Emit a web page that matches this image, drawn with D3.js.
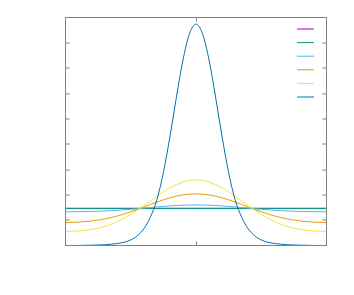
<!DOCTYPE html>
<html>
<head>
<meta charset="utf-8">
<script src="https://cdn.jsdelivr.net/npm/d3@7"></script>
<style>
  html, body { margin: 0; padding: 0; background: #fff; }
  svg { display: block; }
</style>
</head>
<body>
<div id="main"></div>
<script>
// sample positions across the plot
let xs = [-20,-19,-18,-17,-16,-15,-14,-13,-12,-11,-10,-9,-8,-7,-6,-5,-4,-3,-2,-1,0,
          1,2,3,4,5,6,7,8,9,10,11,12,13,14,15,16,17,18,19,20];

let purpleValues = [1.47,1.47,1.47,1.47,1.47,1.47,1.47,1.47,1.47,1.47,1.47,1.47,1.47,1.47,1.47,1.47,1.47,1.47,1.47,1.47,1.47,
                    1.47,1.47,1.47,1.47,1.47,1.47,1.47,1.47,1.47,1.47,1.47,1.47,1.47,1.47,1.47,1.47,1.47,1.47,1.47,1.47];

let greenValues = [1.455,1.455,1.455,1.455,1.455,1.455,1.455,1.455,1.455,1.455,1.455,1.455,1.455,1.455,1.455,1.455,1.455,1.455,1.455,1.455,1.455,
                   1.455,1.455,1.455,1.455,1.455,1.455,1.455,1.455,1.455,1.455,1.455,1.455,1.455,1.455,1.455,1.455,1.455,1.455,1.455,1.455];

let lightBlueValues = [1.330,1.331,1.334,1.338,1.344,1.352,1.362,1.375,1.390,1.409,1.429,1.451,1.474,1.497,1.520,1.542,1.562,1.578,1.590,1.597,1.600,
                       1.597,1.590,1.578,1.562,1.542,1.520,1.497,1.474,1.451,1.429,1.409,1.390,1.375,1.362,1.352,1.344,1.338,1.334,1.331,1.330];

let orangeValues = [0.910,0.913,0.924,0.942,0.968,1.003,1.049,1.104,1.170,1.247,1.331,1.423,1.520,1.618,1.713,1.803,1.882,1.948,1.998,2.029,2.040,
                    2.029,1.998,1.948,1.882,1.803,1.713,1.618,1.520,1.423,1.331,1.247,1.170,1.104,1.049,1.003,0.968,0.942,0.924,0.913,0.910];

let yellowValues = [0.560,0.563,0.577,0.599,0.633,0.682,0.749,0.836,0.944,1.075,1.225,1.393,1.572,1.758,1.943,2.118,2.275,2.407,2.507,2.569,2.590,
                    2.569,2.507,2.407,2.275,2.118,1.943,1.758,1.572,1.393,1.225,1.075,0.944,0.836,0.749,0.682,0.633,0.599,0.577,0.563,0.560];

let blueValues = [0,0,0,0.01,0.01,0.02,0.03,0.05,0.08,0.13,0.22,0.38,0.66,1.12,1.80,2.88,4.29,5.86,7.32,8.36,8.74,
                  8.36,7.32,5.86,4.29,2.88,1.80,1.12,0.66,0.38,0.22,0.13,0.08,0.05,0.03,0.02,0.01,0.01,0,0,0];

let seriesColors = ['#9400d3', '#009e73', '#56b4e9', '#e69f00', '#f0e442', '#0072b2'];

let yTicks = [0, 1, 2, 3, 4, 5, 6, 7, 8, 9];
let xTicks = [0];

class CurvesPlot {
  constructor(config) {
    this.config = config;
    this.svg = null;
    this.xScale = null;
    this.yScale = null;
    this.series = [purpleValues, greenValues, lightBlueValues, orangeValues, yellowValues, blueValues];
    this.createSvg();
  }

  createSvg() {
    this.svg = d3.select(this.config.div)
      .append('svg')
      .attr('width', this.config.width)
      .attr('height', this.config.height);

    this.svg.append('rect')
      .attr('width', this.config.width)
      .attr('height', this.config.height)
      .attr('fill', '#fff');
  }

  createScales() {
    this.xScale = d3.scaleLinear().domain([-20, 20]).range([this.config.left, this.config.right]);
    this.yScale = d3.scaleLinear().domain([0, 9]).range([this.config.bottom, this.config.top]);
  }

  renderLines() {
    let line = d3.line()
      .x((d, i) => this.xScale(xs[i]))
      .y(d => this.yScale(d))
      .curve(d3.curveMonotoneX);

    this.svg.append('g')
      .selectAll('path')
      .data(this.series)
      .enter()
      .append('path')
        .attr('d', d => line(d))
        .attr('fill', 'none')
        .attr('stroke', (d, i) => seriesColors[i])
        .attr('stroke-width', 1);
  }

  renderFrame() {
    let c = this.config;
    let g = this.svg.append('g');

    // inward ticks on all four sides
    let tickLen = 4;
    yTicks.slice(1, -1).forEach(t => {
      let y = Math.round(this.yScale(t));
      g.append('line').attr('x1', c.left).attr('x2', c.left + tickLen)
        .attr('y1', y).attr('y2', y).attr('stroke', '#808080');
      g.append('line').attr('x1', c.right).attr('x2', c.right - tickLen)
        .attr('y1', y).attr('y2', y).attr('stroke', '#808080');
    });
    xTicks.forEach(t => {
      let x = this.xScale(t) + 0.5;
      g.append('line').attr('x1', x).attr('x2', x)
        .attr('y1', c.top).attr('y2', c.top + tickLen).attr('stroke', '#808080');
      g.append('line').attr('x1', x).attr('x2', x)
        .attr('y1', c.bottom).attr('y2', c.bottom - tickLen).attr('stroke', '#808080');
    });

    g.append('rect')
      .attr('x', c.left)
      .attr('y', c.top)
      .attr('width', c.right - c.left)
      .attr('height', c.bottom - c.top)
      .attr('fill', 'none')
      .attr('stroke', '#808080')
      .attr('stroke-width', 1);
  }

  renderLegend() {
    // key entries have no titles, only the line samples
    this.svg.append('g')
      .selectAll('line')
      .data(seriesColors)
      .enter()
      .append('line')
        .attr('x1', 297)
        .attr('x2', 314)
        .attr('y1', (d, i) => 29 + i * 13.6)
        .attr('y2', (d, i) => 29 + i * 13.6)
        .attr('stroke', d => d)
        .attr('stroke-width', 1);
  }
}

let plotConfig = {div: '#main', width: 354, height: 295, left: 65.5, right: 326.5, top: 17.5, bottom: 245.5};
let plot = new CurvesPlot(plotConfig);

plot.createScales();
plot.renderLines();
plot.renderFrame();
plot.renderLegend();
</script>
</body>
</html>
